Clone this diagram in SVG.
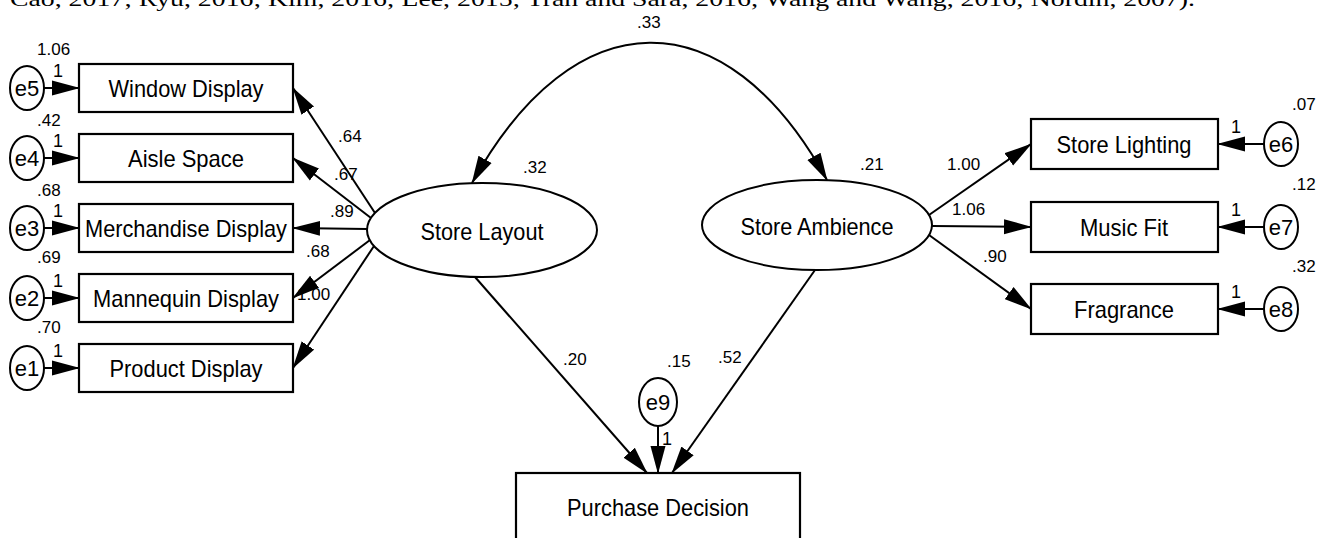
<svg xmlns="http://www.w3.org/2000/svg" width="1317" height="538" viewBox="0 0 1317 538">
<style>
.box{fill:#fff;stroke:#000;stroke-width:2.2}
.ell{fill:#fff;stroke:#000;stroke-width:2}
.lbl{font-family:"Liberation Sans",Arial,sans-serif;font-size:24px;text-anchor:middle;fill:#000}
.el{font-family:"Liberation Sans",Arial,sans-serif;font-size:22px;text-anchor:middle;fill:#000}
.num{font-family:"Liberation Sans",Arial,sans-serif;font-size:17px;fill:#000}
.one{font-family:"Liberation Sans",Arial,sans-serif;font-size:18px;fill:#000}
.cn line,.cn path{stroke:#000;stroke-width:2;fill:none;marker-end:url(#ah)}
.top{font-family:"Liberation Serif","Times New Roman",serif;font-size:22px;fill:#000}
</style>
<defs>
<marker id="ah" markerUnits="userSpaceOnUse" markerWidth="28" markerHeight="16" viewBox="0 0 28 16" refX="27" refY="8" orient="auto-start-reverse">
<path d="M0,0.5 L28,8 L0,15.5 z" fill="#000"/>
</marker>
</defs>
<rect width="1317" height="538" fill="#fff"/>
<text class="top" x="10" y="6" textLength="1185" lengthAdjust="spacingAndGlyphs">Cao, 2017; Ryu, 2016; Kim, 2016; Lee, 2015; Tran and Sara, 2016; Wang and Wang, 2016; Nordin, 2007).</text>

<g id="window-display"><rect class="box" x="79" y="64" width="214" height="48"/><text class="lbl" x="186" y="97" textLength="155" lengthAdjust="spacingAndGlyphs">Window Display</text></g>
<g id="aisle-space"><rect class="box" x="79" y="134" width="214" height="48"/><text class="lbl" x="186" y="167" textLength="116" lengthAdjust="spacingAndGlyphs">Aisle Space</text></g>
<g id="merchandise-display"><rect class="box" x="79" y="204" width="214" height="48"/><text class="lbl" x="186" y="237" textLength="202" lengthAdjust="spacingAndGlyphs">Merchandise Display</text></g>
<g id="mannequin-display"><rect class="box" x="79" y="274" width="214" height="48"/><text class="lbl" x="186" y="307" textLength="186" lengthAdjust="spacingAndGlyphs">Mannequin Display</text></g>
<g id="product-display"><rect class="box" x="79" y="344" width="214" height="48"/><text class="lbl" x="186" y="377" textLength="153" lengthAdjust="spacingAndGlyphs">Product Display</text></g>

<g id="e5"><ellipse class="ell" cx="27" cy="88" rx="17" ry="22"/><text class="el" x="27" y="96">e5</text><text class="num" x="37" y="55">1.06</text></g>
<g id="e4"><ellipse class="ell" cx="27" cy="158" rx="17" ry="22"/><text class="el" x="27" y="166">e4</text><text class="num" x="37" y="126">.42</text></g>
<g id="e3"><ellipse class="ell" cx="27" cy="228" rx="17" ry="22"/><text class="el" x="27" y="236">e3</text><text class="num" x="37" y="196">.68</text></g>
<g id="e2"><ellipse class="ell" cx="27" cy="298" rx="17" ry="22"/><text class="el" x="27" y="306">e2</text><text class="num" x="37" y="263">.69</text></g>
<g id="e1"><ellipse class="ell" cx="27" cy="368" rx="17" ry="22"/><text class="el" x="27" y="376">e1</text><text class="num" x="37" y="333">.70</text></g>

<g id="store-layout"><ellipse class="ell" cx="482" cy="230" rx="115" ry="47"/><text class="lbl" x="482" y="240" textLength="123" lengthAdjust="spacingAndGlyphs">Store Layout</text><text class="num" x="523" y="173">.32</text></g>
<g id="store-ambience"><ellipse class="ell" cx="817" cy="225" rx="115" ry="45"/><text class="lbl" x="817" y="235" textLength="153" lengthAdjust="spacingAndGlyphs">Store Ambience</text><text class="num" x="860" y="170">.21</text></g>

<g id="store-lighting"><rect class="box" x="1031" y="119" width="187" height="50"/><text class="lbl" x="1124" y="153" textLength="135" lengthAdjust="spacingAndGlyphs">Store Lighting</text></g>
<g id="music-fit"><rect class="box" x="1031" y="202" width="187" height="50"/><text class="lbl" x="1124" y="236" textLength="88" lengthAdjust="spacingAndGlyphs">Music Fit</text></g>
<g id="fragrance"><rect class="box" x="1031" y="284" width="187" height="50"/><text class="lbl" x="1124" y="318" textLength="100" lengthAdjust="spacingAndGlyphs">Fragrance</text></g>

<g id="e6"><ellipse class="ell" cx="1281" cy="144" rx="17" ry="22"/><text class="el" x="1281" y="152">e6</text><text class="num" x="1292" y="110">.07</text></g>
<g id="e7"><ellipse class="ell" cx="1281" cy="227" rx="17" ry="22"/><text class="el" x="1281" y="235">e7</text><text class="num" x="1292" y="190">.12</text></g>
<g id="e8"><ellipse class="ell" cx="1281" cy="309" rx="17" ry="22"/><text class="el" x="1281" y="317">e8</text><text class="num" x="1292" y="272">.32</text></g>

<g id="purchase-decision"><rect class="box" x="516" y="473" width="284" height="80"/><text class="lbl" x="658" y="516" textLength="182" lengthAdjust="spacingAndGlyphs">Purchase Decision</text></g>
<g id="e9"><ellipse class="ell" cx="658" cy="402" rx="19" ry="24"/><text class="el" x="658" y="410">e9</text><text class="num" x="667" y="367">.15</text></g>

<g id="edge-labels">
<text class="one" x="53" y="77">1</text>
<text class="one" x="53" y="147">1</text>
<text class="one" x="53" y="217">1</text>
<text class="one" x="53" y="287">1</text>
<text class="one" x="53" y="357">1</text>
<text class="one" x="1231" y="133">1</text>
<text class="one" x="1231" y="216">1</text>
<text class="one" x="1231" y="298">1</text>
<text class="one" x="662" y="445">1</text>
<text class="num" x="338" y="142">.64</text>
<text class="num" x="334" y="180">.67</text>
<text class="num" x="330" y="217">.89</text>
<text class="num" x="306" y="257">.68</text>
<text class="num" x="297" y="300">1.00</text>
<text class="num" x="947" y="170">1.00</text>
<text class="num" x="952" y="215">1.06</text>
<text class="num" x="983" y="262">.90</text>
<text class="num" x="563" y="365">.20</text>
<text class="num" x="718" y="363">.52</text>
<text class="num" x="637" y="28">.33</text>
</g>

<g id="connectors" class="cn">
<line x1="44" y1="88" x2="79" y2="88"/>
<line x1="44" y1="158" x2="79" y2="158"/>
<line x1="44" y1="228" x2="79" y2="228"/>
<line x1="44" y1="298" x2="79" y2="298"/>
<line x1="44" y1="368" x2="79" y2="368"/>
<line x1="375" y1="213" x2="293" y2="88"/>
<line x1="371" y1="218" x2="293" y2="158"/>
<line x1="367" y1="229" x2="293" y2="228"/>
<line x1="370" y1="240" x2="293" y2="298"/>
<line x1="374" y1="246" x2="293" y2="368"/>
<line x1="929" y1="215" x2="1031" y2="144"/>
<line x1="932" y1="226" x2="1031" y2="227"/>
<line x1="929" y1="235" x2="1031" y2="309"/>
<line x1="1264" y1="144" x2="1218" y2="144"/>
<line x1="1264" y1="227" x2="1218" y2="227"/>
<line x1="1264" y1="309" x2="1218" y2="309"/>
<line x1="475" y1="277" x2="647" y2="473"/>
<line x1="815" y1="270" x2="672" y2="473"/>
<line x1="658" y1="426" x2="658" y2="473"/>
<path d="M472,183 C574,-2 725,-5 827,180" marker-start="url(#ah)"/>
</g>
</svg>
